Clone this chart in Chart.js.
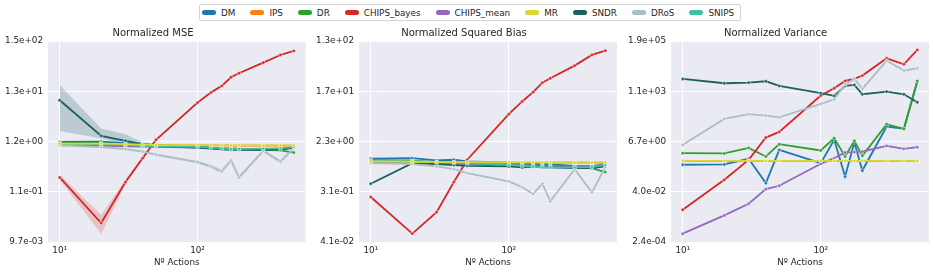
<!DOCTYPE html>
<html>
<head>
<meta charset="utf-8">
<script src="https://cdn.jsdelivr.net/npm/chart.js@4.4.0/dist/chart.umd.min.js"></script>
<style>
  body { margin: 0; background: #fff; width: 934px; height: 272px; overflow: hidden; position: relative; font-family: "DejaVu Sans"; }
  canvas { position: absolute; top: 0; }
  #legend { position: absolute; left: 199px; top: 4px; height: 17px; box-sizing: border-box; border: 1px solid #d4d4d4; border-radius: 2px;
            display: flex; align-items: center; padding: 0 6px 0 2px; font-size: 8.8px; color: #262626; white-space: nowrap; }
  .item { display: flex; align-items: center; margin-right: 15px; }
  .item:last-child { margin-right: 0; }
  .swatch { width: 14px; height: 5px; border-radius: 3px; margin-right: 5px; }
</style>
</head>
<body>
<div id="legend"></div>
<canvas id="mse" width="310" height="272" style="left:0px"></canvas>
<canvas id="bias" width="311" height="272" style="left:311px"></canvas>
<canvas id="variance" width="312" height="272" style="left:622px"></canvas>
<script>
// x values (number of actions)
const actions = [10, 20, 30, 40, 50, 100, 125, 150, 175, 200, 300, 400, 500];
const names = ["DM", "IPS", "DR", "CHIPS_bayes", "CHIPS_mean", "MR", "SNDR", "DRoS", "SNIPS"];
const colors = ["#1f77b4", "#ff7f0e", "#2ca02c", "#d62728", "#9467bd", "#dad632", "#1b5f5e", "#a9bec6", "#3ec0a1"];

const xTicks = [10, 100];
const xTickLabels = ["10¹", "10²"];

// Normalized MSE
const mseDM = [1.18, 1.2, 1.11, 1.06, 1.02, 0.94, 0.90, 0.86, 0.84, 0.83, 0.81, 0.82, 0.90];
const mseIPS = [1.08, 1.08, 1.05, 1.03, 1.01, 1.0, 1.0, 1.0, 0.99, 0.99, 0.99, 0.99, 0.99];
const mseDR = [1.13, 1.11, 1.06, 1.01, 0.97, 0.93, 0.90, 0.87, 0.87, 0.86, 0.81, 0.79, 0.71];
const mseBayes = [0.215, 0.0241, 0.172, 0.543, 1.31, 7.8, 12.6, 17.4, 26.3, 31.9, 53, 76.7, 92.9];
const mseMean = [1.02, 0.99, 0.96, 0.94, 0.93, 0.90, 0.88, 0.86, 0.84, 0.84, 0.83, 0.87, 0.90];
const mseMR = [1.09, 1.09, 1.06, 1.04, 1.02, 1.01, 1.01, 1.01, 1.0, 1.0, 1.0, 1.0, 1.0];
const mseSNDR = [8.75, 1.58, 1.25, 1.06, 0.97, 0.90, 0.86, 0.83, 0.81, 0.81, 0.81, 0.83, 0.90];
const mseDRoS = [1.0, 0.92, 0.84, 0.74, 0.64, 0.45, 0.365, 0.287, 0.486, 0.215, 0.77, 0.46, 0.88];
const mseSNIPS = [1.06, 1.06, 1.01, 0.97, 0.96, 0.93, 0.90, 0.86, 0.84, 0.84, 0.86, 0.87, 0.93];
const mseTickLabels = ["9.7e-03", "1.1e-01", "1.2e+00", "1.3e+01", "1.5e+02"];

// confidence bands on the MSE panel
const mseBayesLo = [0.19, 0.0143, 0.155, 0.51, 1.25, 7.4, 12.0, 16.6, 25.2, 30.6, 51, 74, 90];
const mseBayesHi = [0.245, 0.036, 0.19, 0.58, 1.38, 8.2, 13.2, 18.2, 27.4, 33.2, 55, 79.5, 96];
const mseSNDRLo = [2.0, 1.4, 1.05, 0.97, 0.92, 0.86, 0.83, 0.80, 0.78, 0.78, 0.78, 0.80, 0.86];
const mseSNDRHi = [18.2, 2.24, 1.7, 1.16, 1.02, 0.94, 0.89, 0.86, 0.84, 0.84, 0.84, 0.86, 0.94];
const mseDRoSLo = [0.96, 0.88, 0.80, 0.70, 0.60, 0.42, 0.33, 0.26, 0.45, 0.19, 0.73, 0.41, 0.84];
const mseDRoSHi = [1.04, 0.96, 0.88, 0.78, 0.68, 0.48, 0.40, 0.32, 0.52, 0.24, 0.81, 0.51, 0.92];

// Normalized Squared Bias
const biasDM = [1.155, 1.186, 1.08, 1.11, 1.038, 0.984, 0.958, 0.945, 0.932, 0.92, 0.872, 0.861, 0.884];
const biasIPS = [1.03, 1.02, 1.0, 1.0, 1.0, 0.99, 0.99, 0.99, 0.99, 0.99, 0.99, 0.99, 0.99];
const biasDR = [1.094, 1.066, 1.01, 0.984, 0.958, 0.932, 0.908, 0.884, 0.872, 0.861, 0.839, 0.796, 0.677];
const biasBayes = [0.249, 0.0574, 0.136, 0.454, 1.11, 6.9, 11.5, 16.7, 24.5, 29.2, 48.4, 74.3, 88.3];
const biasMean = [1.01, 0.984, 0.958, 0.945, 0.932, 0.908, 0.896, 0.872, 0.861, 0.85, 0.839, 0.861, 0.945];
const biasMR = [1.038, 1.024, 1.01, 1.01, 1.01, 0.997, 0.997, 0.997, 0.997, 0.997, 0.997, 0.997, 0.997];
const biasSNDR = [0.425, 0.971, 0.932, 0.896, 0.872, 0.85, 0.817, 0.839, 0.817, 0.817, 0.796, 0.796, 0.85];
const biasDRoS = [0.97, 0.93, 0.85, 0.76, 0.65, 0.466, 0.37, 0.28, 0.425, 0.21, 0.76, 0.30, 0.83];
const biasSNIPS = [1.066, 1.052, 1.01, 0.984, 0.958, 0.908, 0.872, 0.839, 0.817, 0.817, 0.817, 0.828, 0.908];
const biasTickLabels = ["4.1e-02", "3.1e-01", "2.3e+00", "1.7e+01", "1.3e+02"];

// Normalized Variance
const varDM = [0.63, 0.65, 1.16, 0.097, 2.89, 0.74, 8.0, 0.19, 6.1, 0.35, 31, 24.5, 3000];
const varIPS = [0.94, 0.94, 0.94, 0.94, 0.94, 0.94, 0.94, 0.94, 0.94, 0.94, 0.94, 0.94, 0.94];
const varDR = [2.06, 2.0, 3.54, 1.47, 5.14, 2.70, 9.5, 1.47, 7.2, 1.57, 39.4, 24.5, 3240];
const varBayes = [0.0064, 0.136, 1.04, 10.1, 18, 728, 1540, 3240, 3970, 5580, 32600, 17700, 76000];
const varMean = [0.00056, 0.0036, 0.0119, 0.0527, 0.074, 0.695, 1.24, 2.2, 2.3, 2.44, 4.34, 3.2, 3.8];
const varMR = [0.94, 0.94, 0.94, 0.94, 0.94, 0.94, 0.94, 0.94, 0.94, 0.94, 0.94, 0.94, 0.94];
const varSNDR = [3970, 2560, 2740, 3130, 1950, 925, 705, 1950, 2160, 834, 1094, 834, 370];
const varDRoS = [4.8, 67.8, 109, 95, 80, 312, 501, 2300, 3970, 1435, 25700, 9290, 11800];
const varSNIPS = [0.94, 0.94, 0.94, 0.94, 0.94, 0.94, 0.94, 0.94, 0.94, 0.94, 0.94, 0.94, 0.94];
const varTickLabels = ["2.4e-04", "4.0e-02", "6.7e+00", "1.1e+03", "1.9e+05"];

// drawing rank, bottom to top
const drawRank = [0, 1, 2, 3, 4, 8, 5, 6, 7];

// legend
const legendEl = document.getElementById("legend");
names.forEach((n, i) => {
  const item = document.createElement("div");
  item.className = "item";
  item.innerHTML = '<span class="swatch" style="background:' + colors[i] + '"></span>' + n;
  legendEl.appendChild(item);
});

Chart.defaults.font.family = "DejaVu Sans";
Chart.defaults.color = "#262626";

const plotBg = {
  id: "plotBg",
  beforeDraw(chart) {
    const { ctx, chartArea: a } = chart;
    ctx.save();
    ctx.fillStyle = "#eaeaf2";
    ctx.fillRect(a.left, a.top, a.right - a.left, a.bottom - a.top);
    ctx.restore();
  }
};

function pts(vals) {
  return actions.map((x, j) => ({ x: x, y: vals[j] }));
}

function makePanel(id, title, series, tickLabels, bands, yWidth, padRight) {
  const lo = parseFloat(tickLabels[0]);
  const hi = parseFloat(tickLabels[tickLabels.length - 1]);
  const n = tickLabels.length - 1;
  const yTicks = tickLabels.map((t, k) => Math.pow(10, Math.log10(lo) + (Math.log10(hi) - Math.log10(lo)) * k / n));

  const datasets = [];
  bands.forEach(b => {
    datasets.push({ data: pts(b.hi), borderWidth: 0, pointRadius: 0, fill: "+1", backgroundColor: b.color, order: 100 });
    datasets.push({ data: pts(b.lo), borderWidth: 0, pointRadius: 0, fill: false, order: 100 });
  });
  series.forEach((vals, i) => {
    datasets.push({
      label: names[i],
      data: pts(vals),
      borderColor: colors[i],
      backgroundColor: colors[i],
      borderWidth: 1.8,
      pointRadius: 1.7,
      pointBorderColor: "#ffffff",
      pointBorderWidth: 0.5,
      pointBackgroundColor: colors[i],
      fill: false,
      order: 20 - drawRank[i]
    });
  });

  return new Chart(document.getElementById(id), {
    type: "line",
    data: { datasets: datasets },
    plugins: [plotBg],
    options: {
      responsive: false,
      animation: false,
      devicePixelRatio: 1,
      layout: { padding: { left: 0, right: padRight, top: 0, bottom: 0 } },
      plugins: {
        legend: { display: false },
        tooltip: { enabled: false },
        title: { display: true, text: title, color: "#262626", font: { size: 10, weight: "normal" }, padding: { top: 27, bottom: 2 } }
      },
      scales: {
        x: {
          type: "logarithmic",
          min: 8.22,
          max: 608,
          bounds: "data",
          afterBuildTicks: s => { s.ticks = xTicks.map(v => ({ value: v })); },
          afterFit: s => { s.height = 30; },
          ticks: { callback: (v, k) => xTickLabels[k], autoSkip: false, maxRotation: 0, padding: 3, font: { size: 8.8 }, color: "#262626" },
          grid: { color: "#ffffff", lineWidth: 1, drawTicks: false },
          border: { display: false },
          title: { display: true, text: "Nº Actions", color: "#262626", font: { size: 8.8 }, padding: { top: 0, bottom: 4.5 } }
        },
        y: {
          type: "logarithmic",
          min: lo,
          max: hi,
          bounds: "data",
          afterBuildTicks: s => { s.ticks = yTicks.map(v => ({ value: v })); },
          afterFit: s => { s.width = yWidth; },
          ticks: { callback: (v, k) => tickLabels[k], autoSkip: false, padding: 5, font: { size: 8.8 }, color: "#262626" },
          grid: { color: "#ffffff", lineWidth: 1, drawTicks: false },
          border: { display: false }
        }
      }
    }
  });
}

makePanel("mse", "Normalized MSE",
  [mseDM, mseIPS, mseDR, mseBayes, mseMean, mseMR, mseSNDR, mseDRoS, mseSNIPS],
  mseTickLabels,
  [
    { lo: mseSNDRLo, hi: mseSNDRHi, color: "rgba(27,95,94,0.22)" },
    { lo: mseBayesLo, hi: mseBayesHi, color: "rgba(214,39,40,0.2)" },
    { lo: mseDRoSLo, hi: mseDRoSHi, color: "rgba(169,190,198,0.3)" }
  ], 48, 4);

makePanel("bias", "Normalized Squared Bias",
  [biasDM, biasIPS, biasDR, biasBayes, biasMean, biasMR, biasSNDR, biasDRoS, biasSNIPS],
  biasTickLabels, [], 48, 5);

makePanel("variance", "Normalized Variance",
  [varDM, varIPS, varDR, varBayes, varMean, varMR, varSNDR, varDRoS, varSNIPS],
  varTickLabels, [], 49, 5);
</script>
</body>
</html>
